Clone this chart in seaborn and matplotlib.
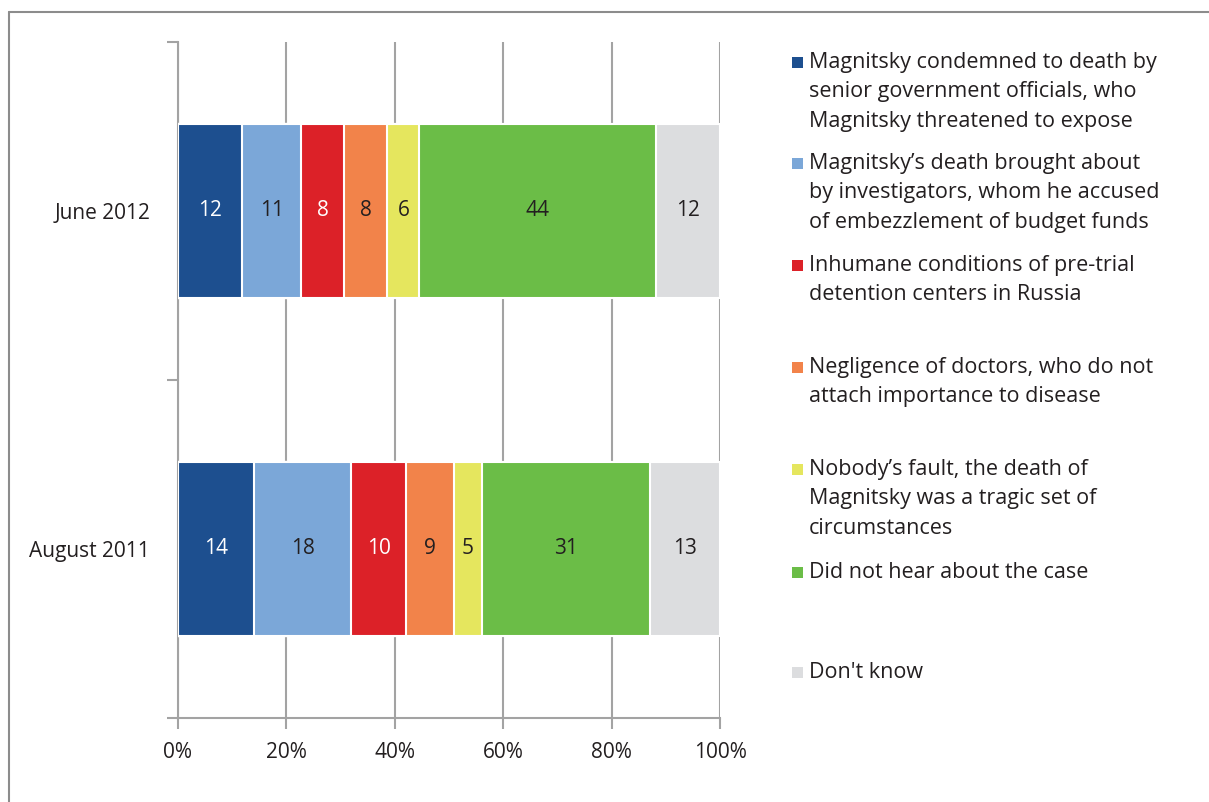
import matplotlib
matplotlib.use("Agg")
import matplotlib.pyplot as plt
import seaborn as sns
import pandas as pd
import numpy as np
from matplotlib.patches import Rectangle
from matplotlib.lines import Line2D

periods = ["June 2012", "August 2011"]
series = [
    "Magnitsky condemned to death by\nsenior government officials, who\nMagnitsky threatened to expose",
    "Magnitsky\u2019s death brought about\nby investigators, whom he accused\nof embezzlement of budget funds",
    "Inhumane conditions of pre-trial\ndetention centers in Russia",
    "Negligence of doctors, who do not\nattach importance to disease",
    "Nobody\u2019s fault, the death of\nMagnitsky was a tragic set of\ncircumstances",
    "Did not hear about the case",
    "Don't know",
]
june_2012 = [12, 11, 8, 8, 6, 44, 12]
august_2011 = [14, 18, 10, 9, 5, 31, 13]
colors = ["#1D4F8F", "#7BA7D8", "#DC2128", "#F2834A", "#E5E65E", "#6BBD47", "#DCDDDF"]
label_colors = ["white", "#231F20", "white", "#231F20", "#231F20", "#231F20", "#231F20"]
xticks = [0, 20, 40, 60, 80, 100]
xtick_labels = ["0%", "20%", "40%", "60%", "80%", "100%"]

sns.set_theme(style="white")
plt.rcParams["font.family"] = ["Open Sans", "DejaVu Sans"]
TXT = "#231F20"
GRID = "#A3A3A3"

fig = plt.figure(figsize=(12.09, 8.02), dpi=100)
ax = fig.add_axes([178 / 1209, 84 / 802, 542 / 1209, 676 / 802])

vals = np.array([june_2012, august_2011], dtype=float)
pct = vals / vals.sum(axis=1, keepdims=True) * 100
cum = np.cumsum(pct, axis=1)

# draw cumulative bars from the last series to the first (overlay stacking)
for i in range(len(series) - 1, -1, -1):
    df = pd.DataFrame({"period": periods, "value": cum[:, i]})
    sns.barplot(data=df, y="period", x="value", order=periods, orient="h",
                color=colors[i], width=0.515, edgecolor="white", linewidth=1.5,
                ax=ax, zorder=3, saturation=1)

for r in range(len(periods)):
    for i in range(len(series)):
        center = cum[r, i] - pct[r, i] / 2
        ax.text(center, r, str(int(vals[r, i])), ha="center", va="center",
                color=label_colors[i], fontsize=15, zorder=5)

ax.set_xlim(0, 100)
ax.set_ylim(1.5, -0.5)
ax.set_xlabel("")
ax.set_ylabel("")
ax.set_xticks(xticks)
ax.set_xticklabels(xtick_labels, fontsize=15, color=TXT)
ax.set_yticks([0, 1])
ax.set_yticklabels(periods, fontsize=15, color=TXT)
ax.set_yticks([-0.5, 0.5, 1.5], minor=True)
ax.tick_params(axis="y", which="major", length=0, pad=20)
ax.tick_params(axis="y", which="minor", length=8, color=GRID, width=1.5, left=True)
ax.tick_params(axis="x", which="major", length=8, color=GRID, width=1.5, bottom=True, pad=9)
ax.grid(axis="x", color=GRID, linewidth=1.5, zorder=0)
ax.set_axisbelow(True)
for s in ["top", "right"]:
    ax.spines[s].set_visible(False)
for s in ["left", "bottom"]:
    ax.spines[s].set_color(GRID)
    ax.spines[s].set_linewidth(1.5)

# legend
leg_y = [62, 163, 265, 367, 469, 572, 672]
for i, lab in enumerate(series):
    y = leg_y[i]
    fig.patches.append(Rectangle((792 / 1209, 1 - (y + 6) / 802), 11 / 1209, 11 / 802,
                                 transform=fig.transFigure, facecolor=colors[i],
                                 edgecolor="none"))
    fig.text(809 / 1209, 1 - (y - 10) / 802, lab, ha="left", va="top",
             fontsize=15.5, color=TXT, linespacing=1.52)

# outer frame
fig.lines.append(Line2D([9 / 1209, 1], [1 - 12 / 802, 1 - 12 / 802],
                        transform=fig.transFigure, color="#8C8C8C", linewidth=1.5))
fig.lines.append(Line2D([9 / 1209, 9 / 1209], [0, 1 - 12 / 802],
                        transform=fig.transFigure, color="#8C8C8C", linewidth=1.5))

fig.savefig("out.png", dpi=100)
